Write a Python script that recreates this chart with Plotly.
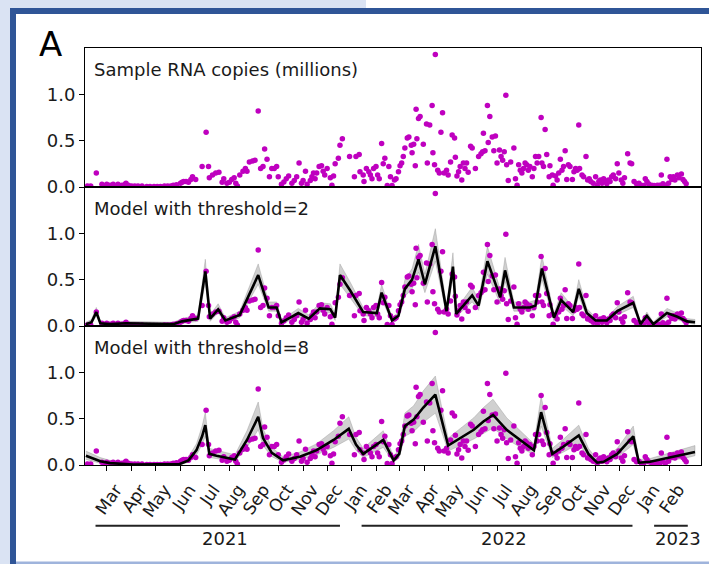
import pandas as pd
import plotly.graph_objects as go
from plotly.subplots import make_subplots

BASE = pd.Timestamp("2021-02-01")

# ---- samples: day offset from BASE, RNA copies (millions)
sample_day = [
    4, 8, 15, 22, 25, 28, 32, 36, 40, 42,
    47, 51, 52, 55, 59, 63, 67, 72, 78, 82,
    87, 91, 95, 100, 104, 108, 111, 115, 120, 122,
    124, 127, 130, 133, 135, 139, 147, 152, 155, 156,
    160, 164, 168, 172, 174, 178, 181, 184, 187, 189,
    191, 194, 198, 201, 203, 206, 210, 213, 217, 220,
    223, 225, 228, 231, 234, 237, 240, 242, 246, 249,
    252, 255, 259, 262, 265, 268, 271, 273, 276, 278,
    282, 284, 286, 288, 290, 293, 296, 298, 300, 303,
    307, 309, 311, 313, 317, 319, 322, 331, 337, 339,
    343, 344, 348, 349, 352, 355, 357, 359, 361, 364,
    366, 368, 371, 373, 375, 378, 380, 382, 384, 387,
    389, 392, 394, 396, 398, 400, 403, 405, 408, 409,
    411, 413, 414, 415, 417, 419, 423, 427, 428, 431,
    434, 435, 437, 438, 441, 443, 445, 447, 449, 452,
    454, 457, 459, 462, 463, 465, 467, 469, 471, 473,
    475, 477, 479, 482, 484, 488, 492, 495, 498, 497,
    500, 503, 504, 506, 509, 511, 513, 515, 518, 520,
    522, 524, 526, 527, 529, 532, 536, 538, 540, 542,
    544, 546, 548, 550, 552, 554, 556, 559, 561, 563,
    565, 567, 570, 571, 573, 575, 577, 580, 581, 584,
    585, 588, 590, 592, 594, 596, 598, 600, 602, 604,
    606, 609, 611, 613, 615, 617, 618, 621, 623, 626,
    628, 630, 632, 635, 638, 640, 642, 644, 646, 648,
    650, 652, 654, 656, 658, 660, 663, 665, 667, 670,
    672, 674, 678, 681, 683, 686, 689, 692, 695, 698,
    700, 702, 704, 708, 711, 715, 718, 720, 722, 725,
    727, 729, 731, 733, 735, 737, 740, 742, 745, 747,
    749, 751,
]
sample_rna = [
    0.01, 0.01, 0.15, 0.03, 0.01, 0.03, 0.02, 0.03, 0.01, 0.03,
    0.02, 0.03, 0.04, 0.02, 0.01, 0.01, 0.01, 0.01, 0.005, 0.005,
    0.005, 0.005, 0.005, 0.01, 0.01, 0.01, 0.02, 0.025, 0.04, 0.05,
    0.06, 0.06, 0.05, 0.08, 0.11, 0.08, 0.22, 0.59, 0.22, 0.10,
    0.13, 0.15, 0.16, 0.05, 0.09, 0.04, 0.05, 0.08, 0.10, 0.04,
    0.01, 0.13, 0.17, 0.20, 0.17, 0.27, 0.28, 0.29, 0.82, 0.20,
    0.22, 0.41, 0.30, 0.11, 0.20, 0.20, 0.22, 0.11, 0.03, 0.055,
    0.09, 0.12, 0.04, 0.07, 0.11, 0.26, 0.04, 0.07, 0.17, 0.03,
    0.07, 0.11, 0.15, 0.09, 0.15, 0.22, 0.23, 0.17, 0.13, 0.20,
    0.10, 0.02, 0.12, 0.25, 0.31, 0.45, 0.52, 0.33, 0.11, 0.33,
    0.35, 0.165, 0.13, 0.06, 0.20, 0.165, 0.13, 0.09, 0.20, 0.22,
    0.13, 0.09, 0.47, 0.25, 0.31, 0.015, 0.22, 0.11, 0.015, 0.075,
    0.09, 0.165, 0.23, 0.26, 0.33, 0.42, 0.53, 0.54, 0.45, 0.37,
    0.46, 0.23, 0.84, 0.52, 0.74, 0.76, 0.46, 0.68, 0.26, 0.67,
    0.88, 0.37, 0.24, 1.43, 0.18, 0.15, 0.59, 0.80, 0.15, 0.18,
    0.13, 0.27, 0.56, 0.53, 0.32, 0.12, 0.165, 0.22, 0.075, 0.26,
    0.20, 0.26, 0.16, 0.44, 0.42, 0.20, 0.33, 0.36, 0.58, 0.38,
    0.39, 0.88, 0.48, 0.76, 0.54, 0.39, 0.55, 0.26, 0.40, 0.33,
    0.29, 0.38, 0.99, 0.24, 0.07, 0.27, 0.42, 0.09, 0.02, 0.24,
    0.18, 0.15, 0.20, 0.26, 0.24, 0.18, 0.22, 0.11, 0.20, 0.33,
    0.26, 0.33, 0.75, 0.26, 0.22, 0.62, 0.35, 0.11, 0.23, 0.13,
    0.02, 0.12, 0.075, 0.15, 0.30, 0.18, 0.22, 0.39, 0.08, 0.24,
    0.22, 0.08, 0.165, 0.20, 0.18, 0.67, 0.20, 0.13, 0.11, 0.33,
    0.075, 0.09, 0.06, 0.04, 0.11, 0.02, 0.06, 0.075, 0.04, 0.09,
    0.06, 0.035, 0.075, 0.06, 0.11, 0.13, 0.09, 0.25, 0.15, 0.075,
    0.04, 0.10, 0.36, 0.26, 0.25, 0.06, 0.035, 0.04, 0.02, 0.015,
    0.09, 0.06, 0.035, 0.02, 0.015, 0.02, 0.02, 0.13, 0.035, 0.02,
    0.30, 0.04, 0.11, 0.08, 0.11, 0.075, 0.13, 0.10, 0.14, 0.08,
    0.06, 0.035,
]

# ---- model with threshold = 2
m2_day = [2, 9, 15, 20, 32, 52, 111, 122, 142, 151, 157, 167, 176, 186, 194,
          217, 230, 240, 246, 257, 267, 280, 294, 307, 313, 319, 332, 348, 365,
          371, 384, 392, 400, 409, 417, 425, 438, 452, 460, 464, 475, 484, 492,
          503, 519, 525, 536, 556, 563, 571, 586, 595, 610, 617, 627, 638, 652,
          665, 685, 694, 702, 710, 727, 740, 752, 762]
m2_mid = [0.02, 0.04, 0.15, 0.03, 0.02, 0.03, 0.02, 0.05, 0.08, 0.59, 0.08, 0.18,
          0.06, 0.09, 0.12, 0.55, 0.20, 0.20, 0.04, 0.09, 0.14, 0.08, 0.19, 0.18,
          0.09, 0.55, 0.38, 0.15, 0.14, 0.36, 0.06, 0.11, 0.40, 0.50, 0.72, 0.45,
          0.86, 0.16, 0.64, 0.13, 0.24, 0.33, 0.22, 0.70, 0.31, 0.60, 0.20, 0.20,
          0.22, 0.62, 0.09, 0.28, 0.15, 0.40, 0.14, 0.06, 0.06, 0.16, 0.25, 0.02,
          0.11, 0.02, 0.14, 0.10, 0.05, 0.04]
m2_lo = [0.01, 0.02, 0.11, 0.02, 0.01, 0.02, 0.01, 0.03, 0.05, 0.47, 0.05, 0.14,
         0.04, 0.06, 0.09, 0.45, 0.16, 0.16, 0.02, 0.06, 0.10, 0.05, 0.15, 0.14,
         0.06, 0.45, 0.30, 0.11, 0.10, 0.29, 0.04, 0.08, 0.32, 0.40, 0.58, 0.36,
         0.70, 0.12, 0.52, 0.10, 0.19, 0.26, 0.17, 0.56, 0.24, 0.48, 0.16, 0.16,
         0.17, 0.50, 0.06, 0.22, 0.11, 0.32, 0.10, 0.04, 0.04, 0.12, 0.20, 0.01,
         0.08, 0.01, 0.10, 0.07, 0.03, 0.02]
m2_hi = [0.04, 0.07, 0.20, 0.05, 0.04, 0.05, 0.04, 0.08, 0.12, 0.72, 0.12, 0.24,
         0.09, 0.13, 0.16, 0.67, 0.26, 0.26, 0.07, 0.13, 0.19, 0.12, 0.25, 0.24,
         0.13, 0.67, 0.47, 0.20, 0.19, 0.45, 0.09, 0.15, 0.50, 0.62, 0.88, 0.56,
         1.05, 0.21, 0.79, 0.18, 0.31, 0.42, 0.28, 0.86, 0.39, 0.74, 0.26, 0.26,
         0.28, 0.76, 0.13, 0.36, 0.20, 0.50, 0.19, 0.09, 0.09, 0.21, 0.32, 0.04,
         0.15, 0.04, 0.19, 0.14, 0.08, 0.07]

# ---- model with threshold = 8
m8_day = [2, 20, 32, 61, 119, 130, 140, 147, 151, 156, 165, 188, 203, 211, 217,
          223, 234, 248, 269, 290, 311, 330, 339, 348, 361, 373, 386, 393, 400,
          411, 423, 438, 454, 469, 486, 498, 510, 527, 544, 561, 570, 584, 598,
          617, 629, 640, 648, 665, 685, 692, 706, 731, 748, 762]
m8_mid = [0.10, 0.04, 0.02, 0.005, 0.01, 0.05, 0.16, 0.31, 0.43, 0.12, 0.10, 0.06,
          0.27, 0.41, 0.52, 0.29, 0.13, 0.05, 0.09, 0.16, 0.27, 0.39, 0.22, 0.12,
          0.20, 0.27, 0.05, 0.12, 0.42, 0.49, 0.62, 0.76, 0.21, 0.29, 0.38, 0.47,
          0.54, 0.38, 0.27, 0.16, 0.57, 0.12, 0.20, 0.32, 0.12, 0.025, 0.035, 0.12,
          0.31, 0.025, 0.035, 0.08, 0.11, 0.14]
m8_lo = [0.06, 0.02, 0.01, 0.0, 0.0, 0.03, 0.11, 0.22, 0.31, 0.08, 0.07, 0.04,
         0.19, 0.30, 0.38, 0.21, 0.09, 0.03, 0.06, 0.11, 0.19, 0.28, 0.16, 0.08,
         0.14, 0.19, 0.03, 0.08, 0.31, 0.36, 0.46, 0.56, 0.15, 0.21, 0.28, 0.34,
         0.40, 0.28, 0.19, 0.11, 0.42, 0.08, 0.14, 0.23, 0.08, 0.01, 0.02, 0.08,
         0.22, 0.01, 0.02, 0.05, 0.07, 0.10]
m8_hi = [0.15, 0.08, 0.05, 0.02, 0.03, 0.09, 0.23, 0.42, 0.57, 0.18, 0.16, 0.11,
         0.37, 0.54, 0.68, 0.39, 0.19, 0.09, 0.14, 0.23, 0.37, 0.52, 0.30, 0.18,
         0.28, 0.37, 0.09, 0.18, 0.56, 0.64, 0.80, 0.96, 0.29, 0.39, 0.51, 0.62,
         0.71, 0.51, 0.37, 0.23, 0.74, 0.18, 0.28, 0.43, 0.18, 0.06, 0.07, 0.18,
         0.42, 0.06, 0.07, 0.13, 0.17, 0.21]

month_ticks = ["2021-03-01", "2021-04-01", "2021-05-01", "2021-06-01", "2021-07-01",
               "2021-08-01", "2021-09-01", "2021-10-01", "2021-11-01", "2021-12-01",
               "2022-01-01", "2022-02-01", "2022-03-01", "2022-04-01", "2022-05-01",
               "2022-06-01", "2022-07-01", "2022-08-01", "2022-09-01", "2022-10-01",
               "2022-11-01", "2022-12-01", "2023-01-01", "2023-02-01"]
month_labels = ["Mar", "Apr", "May", "Jun", "Jul", "Aug", "Sep", "Oct", "Nov", "Dec",
                "Jan", "Feb", "Mar", "Apr", "May", "Jun", "Jul", "Aug", "Sep", "Oct",
                "Nov", "Dec", "Jan", "Feb"]
y_ticks = [0.0, 0.5, 1.0]
panel_titles = ["Sample RNA copies (millions)", "Model with threshold=2",
                "Model with threshold=8"]
years = ["2021", "2022", "2023"]
year_start = ["2021-02-15", "2022-01-13", "2023-01-13"]
year_end = ["2021-12-17", "2022-12-17", "2023-02-24"]
year_mid = ["2021-07-26", "2022-07-10", "2023-02-12"]
x_range = ["2021-02-01 21:00", "2023-03-12 12:00"]


def to_dates(days):
    return [BASE + pd.Timedelta(days=d) for d in days]


W, H = 709, 564
L, R, T, B = 85, 8, 48, 99
PW, PH = W - L - R, H - T - B
FONT = "DejaVu Sans"
MAGENTA = "#bf00bf"
TXT = "#1a1a1a"


def pxx(x):
    return (x - L) / PW


def pxy(y):
    return (H - B - y) / PH


fig = make_subplots(rows=3, cols=1, shared_xaxes=True, vertical_spacing=0)

sx = to_dates(sample_day)
models = [None, (m2_day, m2_mid, m2_lo, m2_hi), (m8_day, m8_mid, m8_lo, m8_hi)]
for i in range(3):
    row = i + 1
    if models[i] is not None:
        d, mid, lo, hi = models[i]
        dx = to_dates(d)
        fig.add_trace(go.Scatter(
            x=dx + dx[::-1], y=hi + lo[::-1], fill="toself",
            fillcolor="rgba(150,150,150,0.45)", mode="lines",
            line=dict(color="rgba(120,120,120,0.5)", width=0.6),
            hoverinfo="skip", showlegend=False), row=row, col=1)
    fig.add_trace(go.Scatter(
        x=sx, y=sample_rna, mode="markers",
        marker=dict(color=MAGENTA, size=5.5, line=dict(width=0)),
        showlegend=False), row=row, col=1)
    if models[i] is not None:
        d, mid, lo, hi = models[i]
        fig.add_trace(go.Scatter(
            x=to_dates(d), y=mid, mode="lines",
            line=dict(color="black", width=2.6),
            showlegend=False), row=row, col=1)

axis_common = dict(showline=True, linecolor="black", linewidth=1, mirror=True,
                   showgrid=False, zeroline=False)
fig.update_yaxes(range=[0, 1.5], tickvals=y_ticks,
                 ticktext=["%.1f" % v for v in y_ticks],
                 ticks="outside", ticklen=5, tickwidth=1, tickcolor="black",
                 tickfont=dict(family=FONT, size=18, color=TXT),
                 **axis_common)
fig.update_xaxes(type="date", range=x_range, ticks="", **axis_common)
fig.update_xaxes(row=3, col=1, ticks="outside", ticklen=5, tickwidth=1,
                 tickcolor="black", tickvals=month_ticks, ticktext=month_labels,
                 tickangle=-55, showticklabels=True, ticklabelshift=9,
                 ticklabelstandoff=2,
                 tickfont=dict(family=FONT, size=17, color=TXT))

annotations = []
for i, t in enumerate(panel_titles):
    annotations.append(dict(
        text=t, xref="x domain" if i == 0 else "x%d domain" % (i + 1),
        yref="y domain" if i == 0 else "y%d domain" % (i + 1),
        x=0.012, y=1, xanchor="left", yanchor="top", yshift=-9,
        showarrow=False, font=dict(family=FONT, size=18, color=TXT)))
for yr, xm in zip(years, year_mid):
    annotations.append(dict(
        text=yr, xref="x3", yref="paper", x=xm, y=pxy(538),
        xanchor="center", yanchor="middle", showarrow=False,
        font=dict(family=FONT, size=18, color=TXT)))
annotations.append(dict(
    text="A", xref="paper", yref="paper", x=pxx(50), y=pxy(44),
    xanchor="center", yanchor="middle", showarrow=False,
    font=dict(family=FONT, size=34, color="black")))

shapes = []
for s, e in zip(year_start, year_end):
    shapes.append(dict(type="line", xref="x3", yref="paper", x0=s, x1=e,
                       y0=pxy(525.7), y1=pxy(525.7),
                       line=dict(color="#222222", width=2)))


def rect(x0, y0, x1, y1, color):
    return dict(type="rect", xref="paper", yref="paper", layer="below",
                x0=pxx(x0), x1=pxx(x1), y0=pxy(y1), y1=pxy(y0),
                fillcolor=color, line=dict(width=0))


LIGHT = "#dae3f3"
DARK = "#2f5597"
shapes += [
    rect(0, 0, 10, H, LIGHT),
    rect(0, 0, 366, 8, LIGHT),
    rect(10, 8, W, 14, DARK),
    rect(10, 8, 16, H, DARK),
    rect(16, 561.5, W, H, "#9fb4dc"),
]

fig.update_layout(
    width=W, height=H, margin=dict(l=L, r=R, t=T, b=B, pad=0),
    paper_bgcolor="white", plot_bgcolor="white",
    font=dict(family=FONT, size=17, color=TXT),
    annotations=annotations, shapes=shapes, showlegend=False,
)

fig.write_html("out.html")
